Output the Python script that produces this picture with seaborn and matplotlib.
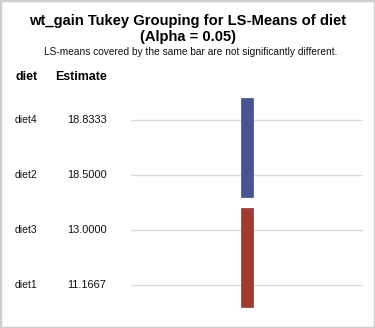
import matplotlib
matplotlib.use("Agg")
import matplotlib.pyplot as plt
import seaborn as sns
import pandas as pd
from matplotlib.patches import Rectangle
from matplotlib.transforms import blended_transform_factory

# Data
diets = ["diet4", "diet2", "diet3", "diet1"]
estimates = [18.8333, 18.5000, 13.0000, 11.1667]
group_first = ["diet4", "diet3"]
group_last = ["diet2", "diet1"]
group_colors = ["#445494", "#a33a2f"]

title = "wt_gain Tukey Grouping for LS-Means of diet\n(Alpha = 0.05)"
subtitle = "LS-means covered by the same bar are not significantly different."

sns.set_theme(style="white")
plt.rcParams["font.family"] = ["Liberation Sans", "DejaVu Sans"]

W, H = 375, 328
fig = plt.figure(figsize=(W / 100, H / 100), dpi=100)
fig.patch.set_facecolor("white")
fig.patches.append(Rectangle((0, 0), 1, 1, transform=fig.transFigure, fill=False,
                             edgecolor="#cfcfcf", linewidth=2.5, zorder=10))

ax_l, ax_r, ax_t, ax_b = 131, 363, 92.5, 312.5
ax = fig.add_axes([ax_l / W, 1 - ax_b / H, (ax_r - ax_l) / W, (ax_b - ax_t) / H])
df = pd.DataFrame({"diet": diets, "estimate": estimates})
df["pos"] = [i + 0.5 for i in range(len(diets))]

ax.set_xlim(0, 1)
ax.set_ylim(len(diets), 0)
for p in df["pos"]:
    ax.axhline(p, color="#dcdcdc", linewidth=1.0, zorder=1)

pos_of = dict(zip(df["diet"], df["pos"]))
for first, last, col in zip(group_first, group_last, group_colors):
    top = pos_of[first] - 0.4
    bot = pos_of[last] + 0.4
    ax.bar(0.5, bot - top, bottom=top, width=0.052, color=col,
           edgecolor=sns.desaturate(col, 0.5), linewidth=0.6, zorder=3)

tr = blended_transform_factory(fig.transFigure, ax.transData)
for _, r in df.iterrows():
    ax.text(15 / W, r["pos"], r["diet"], transform=tr, fontsize=7.5,
            va="center", ha="left", color="#111111", clip_on=False)
    ax.text(67 / W, r["pos"], f"{r['estimate']:.4f}", transform=tr, fontsize=7.9,
            va="center", ha="left", color="#111111", clip_on=False)

ax.axis("off")

fig.text(16 / W, 1 - 77 / H, "diet", fontsize=8.9, fontweight="bold", va="center", ha="left", color="#000000")
fig.text(55 / W, 1 - 77 / H, "Estimate", fontsize=8.9, fontweight="bold", va="center", ha="left", color="#000000")

fig.text(188 / W, 1 - 29 / H, title, fontsize=10.6, fontweight="bold", va="center", ha="center",
         linespacing=1.12, color="#000000")
fig.text(191 / W, 1 - 52 / H, subtitle, fontsize=7.3, va="center", ha="center", color="#111111")

fig.savefig("out.png", dpi=100, facecolor="white")
